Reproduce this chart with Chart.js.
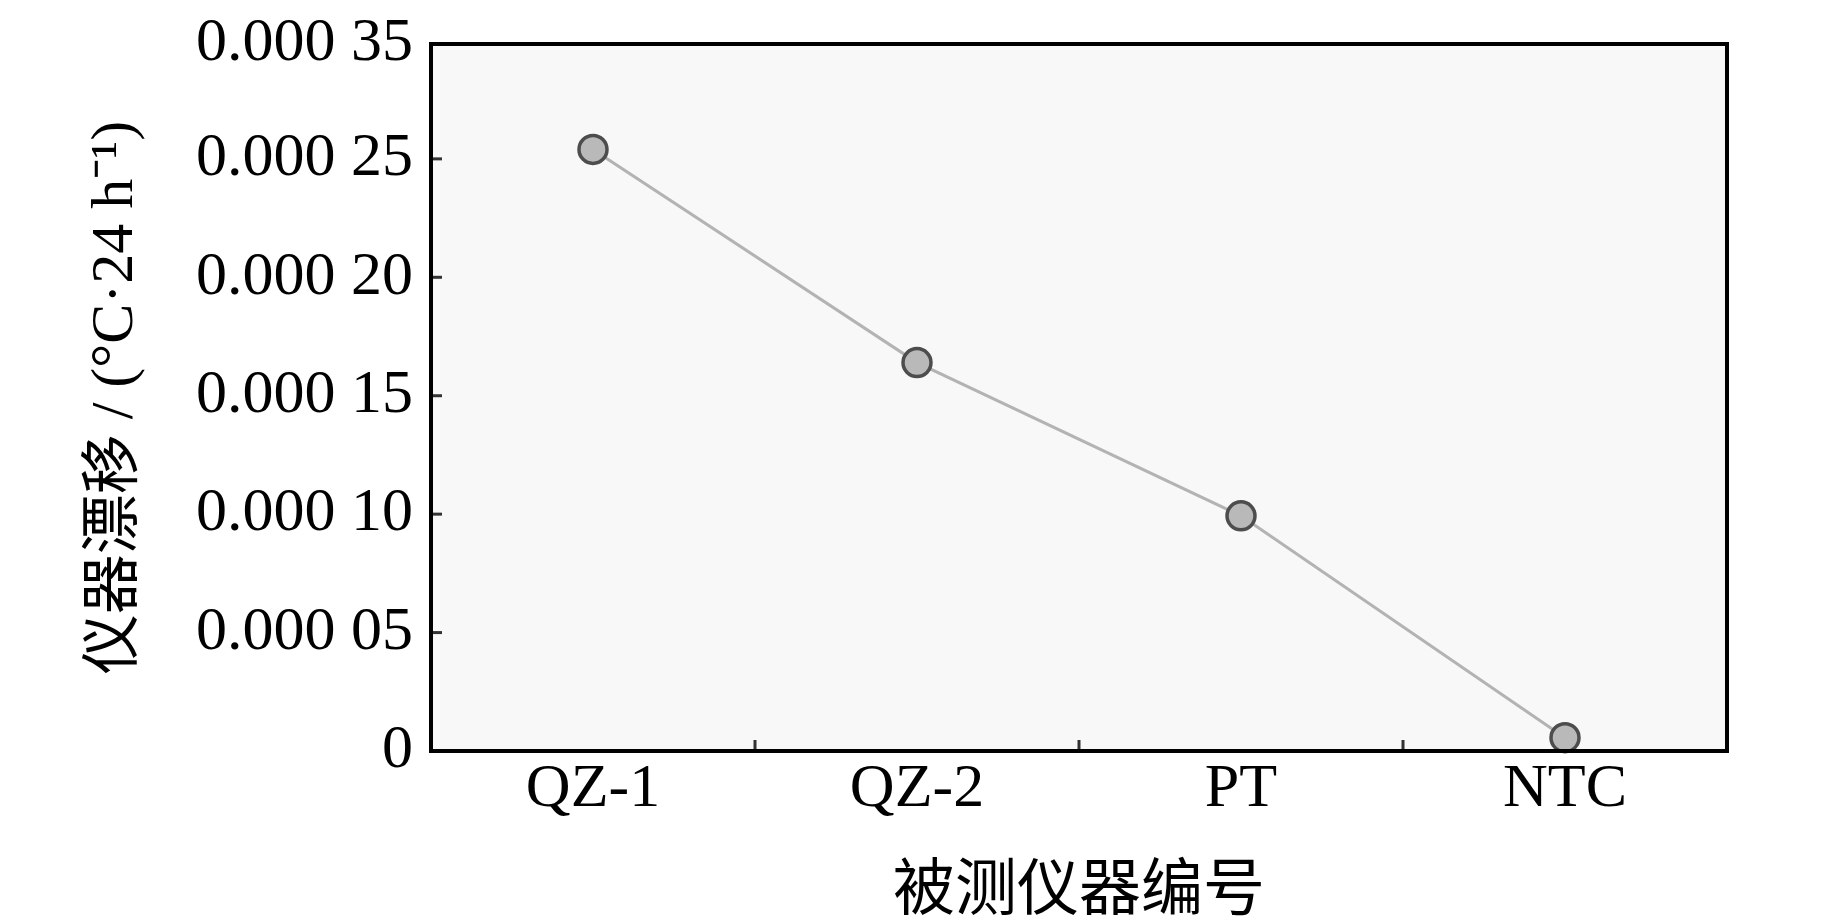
<!DOCTYPE html>
<html>
<head>
<meta charset="utf-8">
<script src="https://cdn.jsdelivr.net/npm/chart.js@4/dist/chart.umd.min.js"></script>
<style>
  html, body { margin: 0; padding: 0; background: #ffffff; }
  #wrap { width: 1843px; height: 921px; position: relative; }
</style>
</head>
<body>
<div id="wrap"><canvas id="c" width="1843" height="921"></canvas></div>
<script>
// ---- data ----
const categories = ['QZ-1', 'QZ-2', 'PT', 'NTC'];
const driftValues = [0.000254, 0.000164, 0.0000993, 0.0000056];
const yAxisMax = 0.0002985;
const yTickValues = [0, 0.00005, 0.0001, 0.00015, 0.0002, 0.00025, yAxisMax];
const yTickLabels = ['0', '0.000 05', '0.000 10', '0.000 15', '0.000 20', '0.000 25', '0.000 35'];
const xTitle = '被测仪器编号';
const yTitle = '仪器漂移 / (°C·24 h⁻¹)';

const serif = '"Liberation Serif", "Noto Sans CJK SC", serif';

const framePlugin = {
  id: 'frame',
  beforeDatasetsDraw(chart) {
    const {ctx, chartArea: a} = chart;
    ctx.save();
    ctx.fillStyle = '#f8f8f8';
    ctx.fillRect(a.left, a.top, a.right - a.left, a.bottom - a.top);
    ctx.restore();
  },
  afterDatasetsDraw(chart) {
    const {ctx, chartArea: a, scales} = chart;
    ctx.save();
    // inward tick marks
    ctx.strokeStyle = '#333333';
    ctx.lineWidth = 3;
    const ys = scales.y;
    ys.ticks.forEach((t, i) => {
      if (i === 0 || i === ys.ticks.length - 1) return;
      const py = ys.getPixelForValue(t.value);
      ctx.beginPath();
      ctx.moveTo(a.left, py);
      ctx.lineTo(a.left + 11, py);
      ctx.stroke();
    });
    const xs = scales.x;
    for (let i = 0; i < categories.length - 1; i++) {
      const px = (xs.getPixelForValue(i) + xs.getPixelForValue(i + 1)) / 2;
      ctx.beginPath();
      ctx.moveTo(px, a.bottom);
      ctx.lineTo(px, a.bottom - 11);
      ctx.stroke();
    }
    // frame
    ctx.strokeStyle = '#000000';
    ctx.lineWidth = 4;
    ctx.strokeRect(a.left, a.top, a.right - a.left, a.bottom - a.top);
    ctx.restore();
  }
};

new Chart(document.getElementById('c'), {
  type: 'line',
  data: {
    labels: categories,
    datasets: [{
      data: driftValues,
      borderColor: '#b3b3b3',
      borderWidth: 3,
      pointRadius: 14,
      pointBorderWidth: 3.5,
      pointBorderColor: '#4d4d4d',
      pointBackgroundColor: '#b9b9b9',
      tension: 0,
      clip: false
    }]
  },
  options: {
    responsive: false,
    animation: false,
    devicePixelRatio: 1,
    layout: { padding: { top: 44, right: 116, left: 0, bottom: 0 } },
    plugins: { legend: { display: false }, tooltip: { enabled: false } },
    scales: {
      x: {
        type: 'category',
        offset: true,
        grid: { display: false, drawTicks: false },
        border: { display: false },
        ticks: {
          padding: 2,
          color: '#000',
          font: { family: serif, size: 62, lineHeight: 1.2 },
          maxRotation: 0
        },
        title: {
          display: true,
          text: xTitle,
          color: '#000',
          font: { family: serif, size: 62, lineHeight: 1.2 },
          padding: { top: 19, bottom: -10 }
        },
        afterFit(scale) {
          scale.height = 170;
          scale.paddingLeft = 0;
          scale.paddingRight = 0;
        }
      },
      y: {
        min: 0,
        max: yAxisMax,
        grid: { display: false, drawTicks: false },
        border: { display: false },
        afterBuildTicks(scale) {
          scale.ticks = yTickValues.map(v => ({ value: v }));
        },
        ticks: {
          padding: 18,
          color: '#000',
          font: { family: serif, size: 62, lineHeight: 1.2 },
          callback(value, index) { return yTickLabels[index]; }
        },
        title: {
          display: true,
          text: yTitle,
          color: '#000',
          font: { family: serif, size: 60, lineHeight: 1.2 },
          padding: { top: 80, bottom: 44 }
        },
        afterFit(scale) {
          scale.width = 431;
          scale.paddingTop = 0;
          scale.paddingBottom = 0;
        }
      }
    }
  },
  plugins: [framePlugin]
});
</script>
</body>
</html>
